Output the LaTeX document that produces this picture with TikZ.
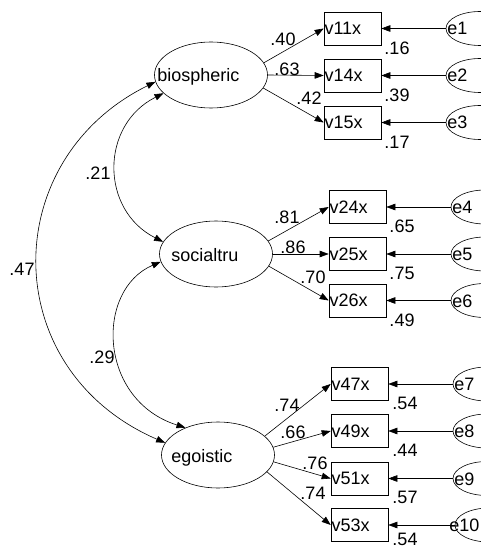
\documentclass[tikz,border=0pt]{standalone}
\usepackage{fontspec}
\setmainfont{Liberation Sans}
\usetikzlibrary{arrows.meta,shapes.geometric}
\begin{document}
\begin{tikzpicture}[x=1pt,y=-1pt,line width=0.6pt,
  every node/.style={font=\fontsize{18}{20}\selectfont},
  lat/.style={draw, ellipse, minimum width=113pt, minimum height=66pt, inner sep=0pt},
  obs/.style={draw, rectangle, minimum width=57pt, minimum height=33pt, text width=56pt, align=left, inner xsep=0.5pt, inner ysep=0pt},
  err/.style={draw, ellipse, minimum width=68pt, minimum height=34pt, inner sep=0pt},
  txt/.style={inner sep=0pt, anchor=base west},
  lbl/.style={inner sep=0pt},
  arr/.style={-{Triangle[length=9pt,width=6.5pt]}},
  cov/.style={{Triangle[length=9pt,width=6.5pt]}-{Triangle[length=9pt,width=6.5pt]}}
]
\useasboundingbox (0,0) rectangle (480,548);

% latent variables
\node[lat] (bio) at (211,75) {};
\node[txt] (biot) at (157,82) {biospheric};
\node[lat] (soc) at (216,254) {};
\node[txt] (soct) at (171,261) {socialtru};
\node[lat] (ego) at (218,455) {};
\node[txt] (egot) at (171,462) {egoistic};

% observed variables
\node[obs] (v11) at (352.5,28.5) {v11x};
\node[obs] (v14) at (352.5,75.5) {v14x};
\node[obs] (v15) at (352.5,122.5) {v15x};
\node[obs] (v24) at (357.5,207) {v24x};
\node[obs] (v25) at (357.5,254) {v25x};
\node[obs] (v26) at (357.5,300.5) {v26x};
\node[obs] (v47) at (359.5,384) {v47x};
\node[obs] (v49) at (359.5,431) {v49x};
\node[obs] (v51) at (359.5,478.5) {v51x};
\node[obs] (v53) at (359.5,525) {v53x};

% error terms
\node[err] (e1) at (480,28.5) {};
\node[err] (e2) at (480,75.5) {};
\node[err] (e3) at (480,122.5) {};
\node[err] (e4) at (485,207) {};
\node[err] (e5) at (485,254) {};
\node[err] (e6) at (485,300.5) {};
\node[err] (e7) at (487,384) {};
\node[err] (e8) at (487,431) {};
\node[err] (e9) at (487,478.5) {};
\node[err] (e10) at (489,525) {};
\node[txt] (e1t) at (447,35) {e1};
\node[txt] (e2t) at (447,82) {e2};
\node[txt] (e3t) at (447,129) {e3};
\node[txt] (e4t) at (452,213.5) {e4};
\node[txt] (e5t) at (452,260.5) {e5};
\node[txt] (e6t) at (452,307) {e6};
\node[txt] (e7t) at (454,390.5) {e7};
\node[txt] (e8t) at (454,437.5) {e8};
\node[txt] (e9t) at (454,485) {e9};
\node[txt] (e10t) at (449,531.5) {e10};

% loadings
\draw[arr] (bio.13) -- (v11.west);
\draw[arr] (bio.0) -- (v14.west);
\draw[arr] (bio.-14) -- (v15.west);
\draw[arr] (soc.14) -- (v24.west);
\draw[arr] (soc.0) -- (v25.west);
\draw[arr] (soc.-13) -- (v26.west);
\draw[arr] (ego.22) -- (v47.west);
\draw[arr] (ego.8) -- (v49.west);
\draw[arr] (ego.-7) -- (v51.west);
\draw[arr] (ego.-19) -- (v53.west);

% error paths
\foreach \e/\v in {e1/v11,e2/v14,e3/v15,e4/v24,e5/v25,e6/v26,e7/v47,e8/v49,e9/v51,e10/v53}
  \draw[arr] (\e.west) -- (\v.east);

% covariances
\draw[cov] (bio.187) .. controls (-3,160) and (-3,370) .. (ego.167);
\draw[cov] (bio.201) .. controls (100,125) and (100,210) .. (soc.167);
\draw[cov] (soc.188) .. controls (95,290) and (98,400) .. (ego.140);

% labels
\node[lbl] (l1) at (283,39) {.40};
\node[lbl] (l2) at (287,69) {.63};
\node[lbl] (l3) at (309,98) {.42};
\node[lbl] (l4) at (287,217) {.81};
\node[lbl] (l5) at (293,247) {.86};
\node[lbl] (l6) at (313,277) {.70};
\node[lbl] (l7) at (287,405) {.74};
\node[lbl] (l8) at (293,432) {.66};
\node[lbl] (l9) at (315,463) {.76};
\node[lbl] (l10) at (313,493) {.74};
\node[lbl] (r1) at (397,48) {.16};
\node[lbl] (r2) at (397,95) {.39};
\node[lbl] (r3) at (397,142) {.17};
\node[lbl] (r4) at (402,226) {.65};
\node[lbl] (r5) at (402,273) {.75};
\node[lbl] (r6) at (402,320) {.49};
\node[lbl] (r7) at (405,403) {.54};
\node[lbl] (r8) at (405,450) {.44};
\node[lbl] (r9) at (405,497) {.57};
\node[lbl] (r10) at (405,539) {.54};
\node[lbl] (c1) at (22,269) {.47};
\node[lbl] (c2) at (98,173) {.21};
\node[lbl] (c3) at (102,357) {.29};
\end{tikzpicture}
\end{document}
